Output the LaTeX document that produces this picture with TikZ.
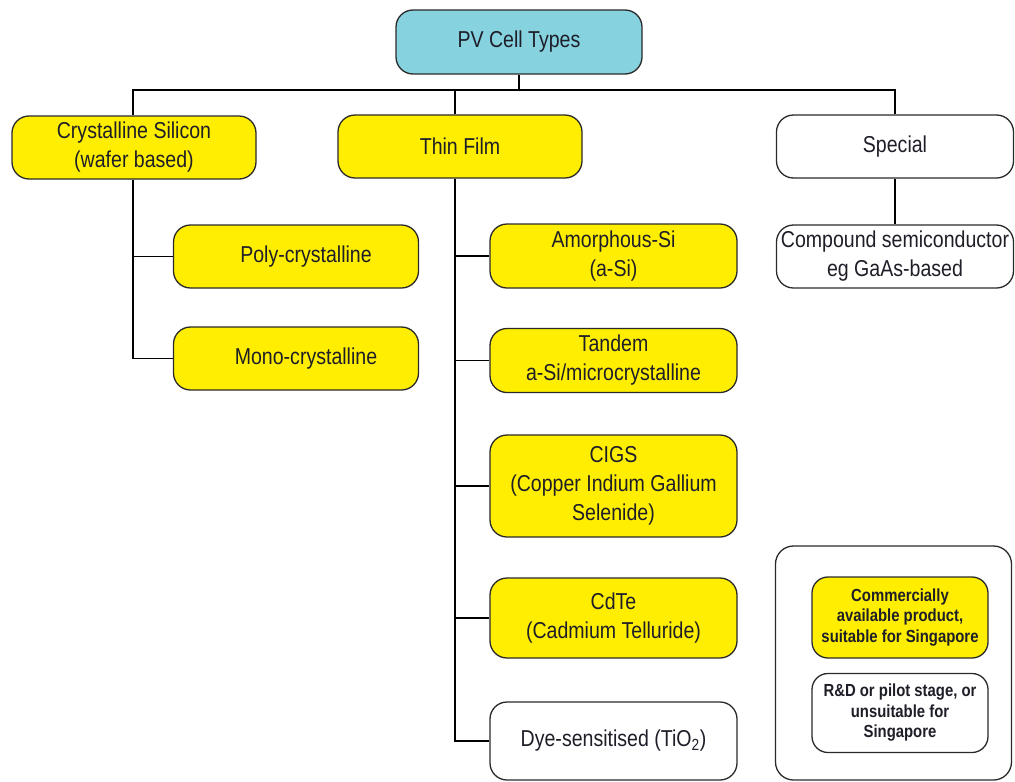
\documentclass[tikz,border=0pt]{standalone}
\usepackage{fontspec}
\setmainfont[FakeStretch=0.85]{Liberation Sans}
\definecolor{boxyellow}{HTML}{FFEE00}
\definecolor{boxcyan}{HTML}{86D2DF}
\definecolor{edge}{HTML}{2A2A2A}
\definecolor{txt}{HTML}{1E1E28}
\tikzset{
  box/.style={draw=edge, line width=1.3pt, rounded corners=17pt, align=center,
    text=txt, font=\fontsize{23}{29}\selectfont, inner sep=1pt},
  ybox/.style={box, fill=boxyellow},
  wbox/.style={box, fill=white},
  lbox/.style={draw=edge, line width=1.3pt, rounded corners=16pt, align=center,
    text=txt, font=\fontsize{17.5}{20.5}\selectfont\bfseries, inner sep=1pt},
  conn/.style={draw=black, line width=1.3pt}
}
\begin{document}
\begin{tikzpicture}[x=1pt,y=-1pt]
\useasboundingbox (0,0) rectangle (1015,782);
% nodes
\node[box, fill=boxcyan, minimum width=246pt, minimum height=64pt] (root) at (519,42) {PV Cell Types};
\node[ybox, minimum width=244pt, minimum height=63pt] (cs) at (134,147.5) {Crystalline Silicon\\(wafer based)};
\node[ybox, minimum width=244pt, minimum height=63pt] (tf) at (460,146.5) {Thin Film};
\node[wbox, minimum width=237pt, minimum height=63pt] (sp) at (895,146.5) {Special};
\node[wbox, minimum width=237pt, minimum height=63pt] (cmp) at (895,256.5) {Compound semiconductor\\eg GaAs-based};
\node[ybox, minimum width=245pt, minimum height=63pt] (poly) at (296,256.5) {\hspace*{20pt}Poly-crystalline};
\node[ybox, minimum width=245pt, minimum height=63pt] (mono) at (296,358.5) {\hspace*{20pt}Mono-crystalline};
\node[ybox, minimum width=247pt, minimum height=64pt] (am) at (613.5,256) {Amorphous-Si\\(a-Si)};
\node[ybox, minimum width=247pt, minimum height=64pt] (tan) at (613.5,360.5) {Tandem\\a-Si/microcrystalline};
\node[ybox, minimum width=247pt, minimum height=102pt] (cigs) at (613.5,486) {CIGS\\(Copper Indium Gallium\\Selenide)};
\node[ybox, minimum width=247pt, minimum height=80pt] (cdte) at (613.5,618) {CdTe\\(Cadmium Telluride)};
\node[wbox, minimum width=247pt, minimum height=78pt] (dye) at (613.5,741) {Dye-sensitised (TiO\textsubscript{2})};
% legend
\node[draw=edge, line width=1.3pt, rounded corners=18pt, minimum width=236pt, minimum height=234pt] (leg) at (893.5,663) {};
\node[lbox, fill=boxyellow, minimum width=176pt, minimum height=81pt] (comm) at (900,617.5) {Commercially\\available product,\\suitable for Singapore};
\node[lbox, fill=white, minimum width=176pt, minimum height=79pt] (rd) at (900,713) {R\&D or pilot stage, or\\unsuitable for\\Singapore};
% connectors
\coordinate (j) at (519,90);
\draw[conn] (root.south) -- (j);
\draw[conn] ([xshift=-1pt]cs.north) |- (j);
\draw[conn] ([xshift=-5pt]tf.north) |- (j);
\draw[conn] (sp.north) |- (j);
\draw[conn] (sp.south) -- (cmp.north);
\draw[conn] ([xshift=-1pt]cs.south) |- (poly.west);
\draw[conn] ([xshift=-1pt]cs.south) |- (mono.west);
\draw[conn] ([xshift=-5pt]tf.south) |- (am.west);
\draw[conn] ([xshift=-5pt]tf.south) |- (tan.west);
\draw[conn] ([xshift=-5pt]tf.south) |- (cigs.west);
\draw[conn] ([xshift=-5pt]tf.south) |- (cdte.west);
\draw[conn] ([xshift=-5pt]tf.south) |- (dye.west);
\end{tikzpicture}
\end{document}
